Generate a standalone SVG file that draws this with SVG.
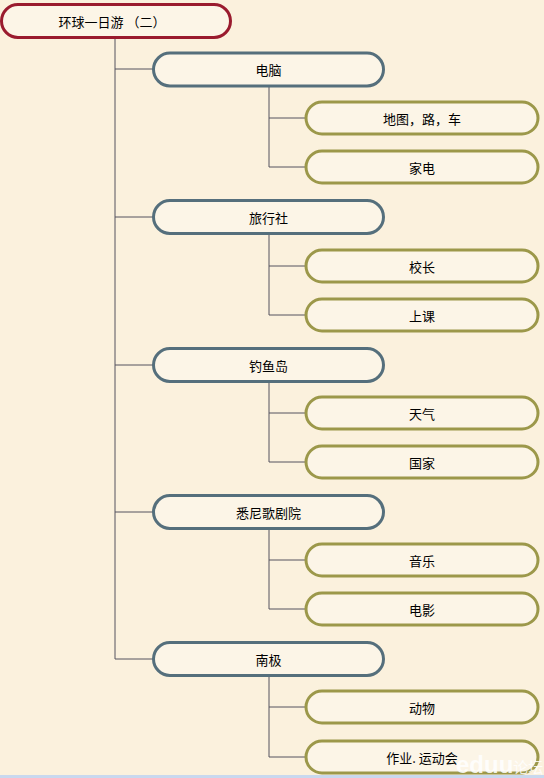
<svg xmlns="http://www.w3.org/2000/svg" width="544" height="778" viewBox="0 0 544 778">
<style>
.bg{fill:#FBF1DD}
.root{fill:#FCF5E7;stroke:#9A1B2E;stroke-width:3}
.l1{fill:#FCF5E7;stroke:#556F7C;stroke-width:3}
.l2{fill:#FCF5E7;stroke:#9C984A;stroke-width:3}
.t{font-family:"Noto Sans CJK SC","Liberation Sans",sans-serif;font-size:13px;fill:#000;text-anchor:middle;dominant-baseline:central}
.c{fill:none;stroke:#55525F;stroke-width:1}
</style>
<rect class="bg" x="0" y="0" width="544" height="778"/>
<g id="connectors">
<path class="c" d="M115,38 V659 M115,69 H153 M115,217 H153 M115,365 H153 M115,512 H153 M115,659 H153"/>
<path class="c" d="M269,86 V167 M269,118 H305 M269,167 H305"/>
<path class="c" d="M269,234 V315 M269,266 H305 M269,315 H305"/>
<path class="c" d="M269,382 V462 M269,413 H305 M269,462 H305"/>
<path class="c" d="M269,529 V609 M269,560 H305 M269,609 H305"/>
<path class="c" d="M269,676 V757 M269,707 H305 M269,757 H305"/>
</g>
<g id="root"><rect class="root" x="1.5" y="4.5" width="229" height="33" rx="16.5"/><text class="t" x="112" y="21">环球一日游 （二）</text></g>
<g id="n1"><rect class="l1" x="153.5" y="53" width="230" height="33" rx="16.5"/><text class="t" x="268.5" y="69.5">电脑</text></g>
<g id="n1a"><rect class="l2" x="306" y="102" width="232" height="32" rx="16"/><text class="t" x="422" y="118">地图，路，车</text></g>
<g id="n1b"><rect class="l2" x="306" y="151" width="232" height="32" rx="16"/><text class="t" x="422" y="167">家电</text></g>
<g id="n2"><rect class="l1" x="153.5" y="200.5" width="230" height="33" rx="16.5"/><text class="t" x="268.5" y="217">旅行社</text></g>
<g id="n2a"><rect class="l2" x="306" y="250" width="232" height="32" rx="16"/><text class="t" x="422" y="266">校长</text></g>
<g id="n2b"><rect class="l2" x="306" y="299" width="232" height="32" rx="16"/><text class="t" x="422" y="315">上课</text></g>
<g id="n3"><rect class="l1" x="153.5" y="348.5" width="230" height="33" rx="16.5"/><text class="t" x="268.5" y="365">钓鱼岛</text></g>
<g id="n3a"><rect class="l2" x="306" y="397" width="232" height="32" rx="16"/><text class="t" x="422" y="413">天气</text></g>
<g id="n3b"><rect class="l2" x="306" y="446" width="232" height="32" rx="16"/><text class="t" x="422" y="462">国家</text></g>
<g id="n4"><rect class="l1" x="153.5" y="495.5" width="230" height="33" rx="16.5"/><text class="t" x="268.5" y="512">悉尼歌剧院</text></g>
<g id="n4a"><rect class="l2" x="306" y="544" width="232" height="32" rx="16"/><text class="t" x="422" y="560">音乐</text></g>
<g id="n4b"><rect class="l2" x="306" y="593" width="232" height="32" rx="16"/><text class="t" x="422" y="609">电影</text></g>
<g id="n5"><rect class="l1" x="153.5" y="642.5" width="230" height="33" rx="16.5"/><text class="t" x="268.5" y="659">南极</text></g>
<g id="n5a"><rect class="l2" x="306" y="691" width="232" height="32" rx="16"/><text class="t" x="422" y="707">动物</text></g>
<g id="n5b"><rect class="l2" x="306" y="741" width="232" height="32" rx="16"/><text class="t" x="422" y="757">作业. 运动会</text></g>
<text x="456" y="773" style="font-family:'Liberation Sans','Noto Sans CJK SC',sans-serif;font-size:24px;font-weight:bold;fill:#FFFFFF;fill-opacity:0.85">eduu<tspan style="font-size:15px;font-weight:normal">论坛</tspan></text>
<rect x="0" y="775" width="544" height="3" fill="#C9D8EE"/>
</svg>
